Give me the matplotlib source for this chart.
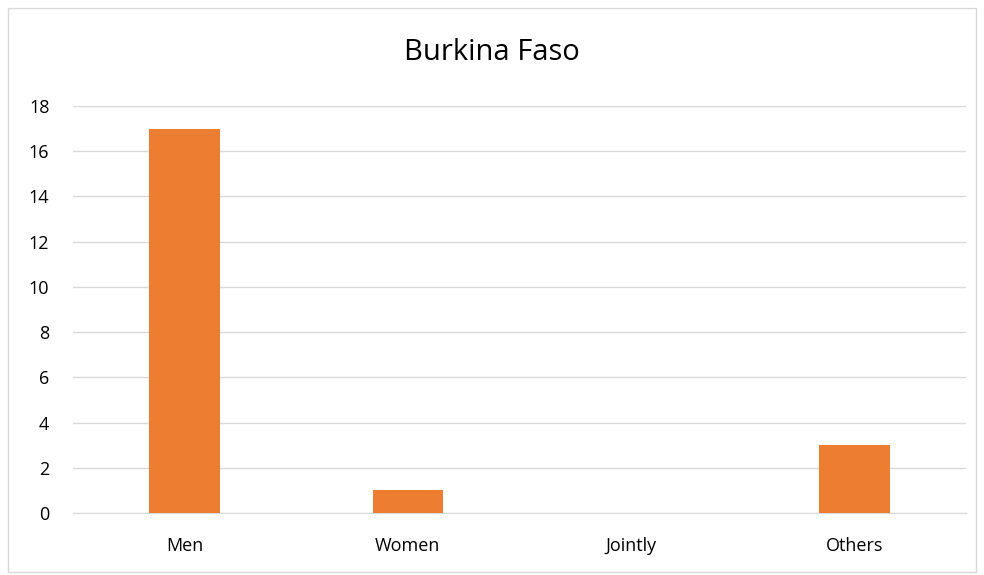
import matplotlib.pyplot as plt
from matplotlib.patches import Rectangle

categories = ['Men', 'Women', 'Jointly', 'Others']
values = [17, 1, 0, 3]
yticks = [0, 2, 4, 6, 8, 10, 12, 14, 16, 18]

plt.rcParams['font.family'] = ['Open Sans', 'DejaVu Sans']

fig = plt.figure(figsize=(9.84, 5.75), dpi=100)
# outer chart border
fig.patches.append(Rectangle((8 / 984, 3 / 575), 968 / 984, 564 / 575,
                             transform=fig.transFigure, fill=False,
                             edgecolor='#D9D9D9', linewidth=1))

ax = fig.add_axes([73 / 984, 62 / 575, 893 / 984, 407 / 575])
ax.bar(range(len(categories)), values, width=0.315, color='#ED7D31', zorder=3)

ax.set_xlim(-0.5, 3.5)
ax.set_ylim(0, 18)
ax.set_yticks(yticks)
ax.set_xticks(range(len(categories)))
ax.set_xticklabels(categories)
ax.grid(axis='y', color='#D9D9D9', linewidth=1, zorder=0)
for s in ['top', 'right', 'left']:
    ax.spines[s].set_visible(False)
ax.spines['bottom'].set_color('#D9D9D9')
ax.tick_params(axis='both', length=0, labelsize=13, colors='black')
ax.tick_params(axis='x', pad=17)
ax.tick_params(axis='y', pad=17)

fig.suptitle('Burkina Faso', y=1 - 53 / 575, va='center', fontsize=21)

fig.savefig('out.png', dpi=100)
